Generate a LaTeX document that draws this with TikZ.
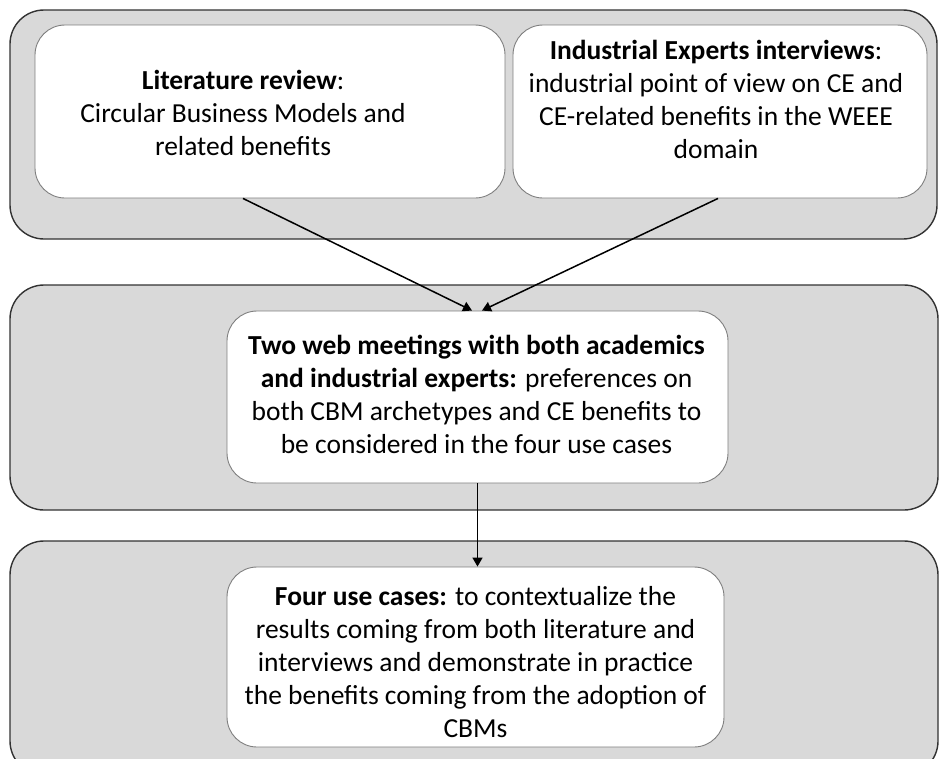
\documentclass[tikz,border=0pt]{standalone}
\usepackage{fontspec}
\setmainfont{Carlito}
\usetikzlibrary{arrows.meta}
\definecolor{bandgray}{HTML}{D9D9D9}
\definecolor{bandline}{HTML}{333333}
\definecolor{cardline}{HTML}{7F7F7F}
\tikzset{
  band/.style={draw=bandline, line width=1.4pt, fill=bandgray,
    rounded corners=34pt, inner sep=0pt},
  card/.style={draw=cardline, line width=0.9pt, fill=white,
    rounded corners=30pt, inner sep=0pt},
  cardtext/.style={inner sep=0pt, align=center,
    font=\fontsize{27.5}{33}\selectfont},
  flow/.style={draw=black, line width=1.5pt,
    -{Triangle[width=10pt,length=9pt]}}
}
\begin{document}
\begin{tikzpicture}[x=1pt, y=-1pt]
  \useasboundingbox (0,0) rectangle (939,758);
  \begin{scope}
    \clip (0,0) rectangle (939,758);
    % grey bands
    \node[band, minimum width=927pt, minimum height=229pt] (topband) at (473.5,124.5) {};
    \node[band, minimum width=928pt, minimum height=225pt] (midband) at (474,397.5) {};
    \node[band, minimum width=928pt, minimum height=234pt] (botband) at (474,658) {};
  \end{scope}
  % white cards
  \node[card, minimum width=470pt, minimum height=173pt] (litbox) at (270,111.5) {};
  \node[card, minimum width=414pt, minimum height=173pt] (indbox) at (720,111.5) {};
  \node[card, minimum width=501pt, minimum height=172pt] (webbox) at (477.5,397) {};
  \node[card, minimum width=497pt, minimum height=180pt] (usebox) at (475.5,657) {};
  % card texts
  \node[cardtext] (lit) at (243,113)
    {\textbf{Literature review}:\\Circular Business Models and\\related benefits};
  \node[cardtext] (ind) at (716,99)
    {\textbf{Industrial Experts interviews}:\\industrial point of view on CE and\\CE-related benefits in the WEEE\\domain};
  \node[cardtext] (web) at (476.5,394)
    {\textbf{Two web meetings with both academics}\\\textbf{and industrial experts:} preferences on\\both CBM archetypes and CE benefits to\\be considered in the four use cases};
  \node[cardtext] (use) at (475.5,662)
    {\textbf{Four use cases:} to contextualize the\\results coming from both literature and\\interviews and demonstrate in practice\\the benefits coming from the adoption of\\CBMs};
  % connectors
  \draw[flow] ([xshift=-27pt]litbox.south) -- ([xshift=-5.5pt]webbox.north);
  \draw[flow] ([xshift=-2pt]indbox.south) -- ([xshift=4.5pt]webbox.north);
  \draw[flow] (webbox.south) -- (webbox.south |- usebox.north);
\end{tikzpicture}
\end{document}
